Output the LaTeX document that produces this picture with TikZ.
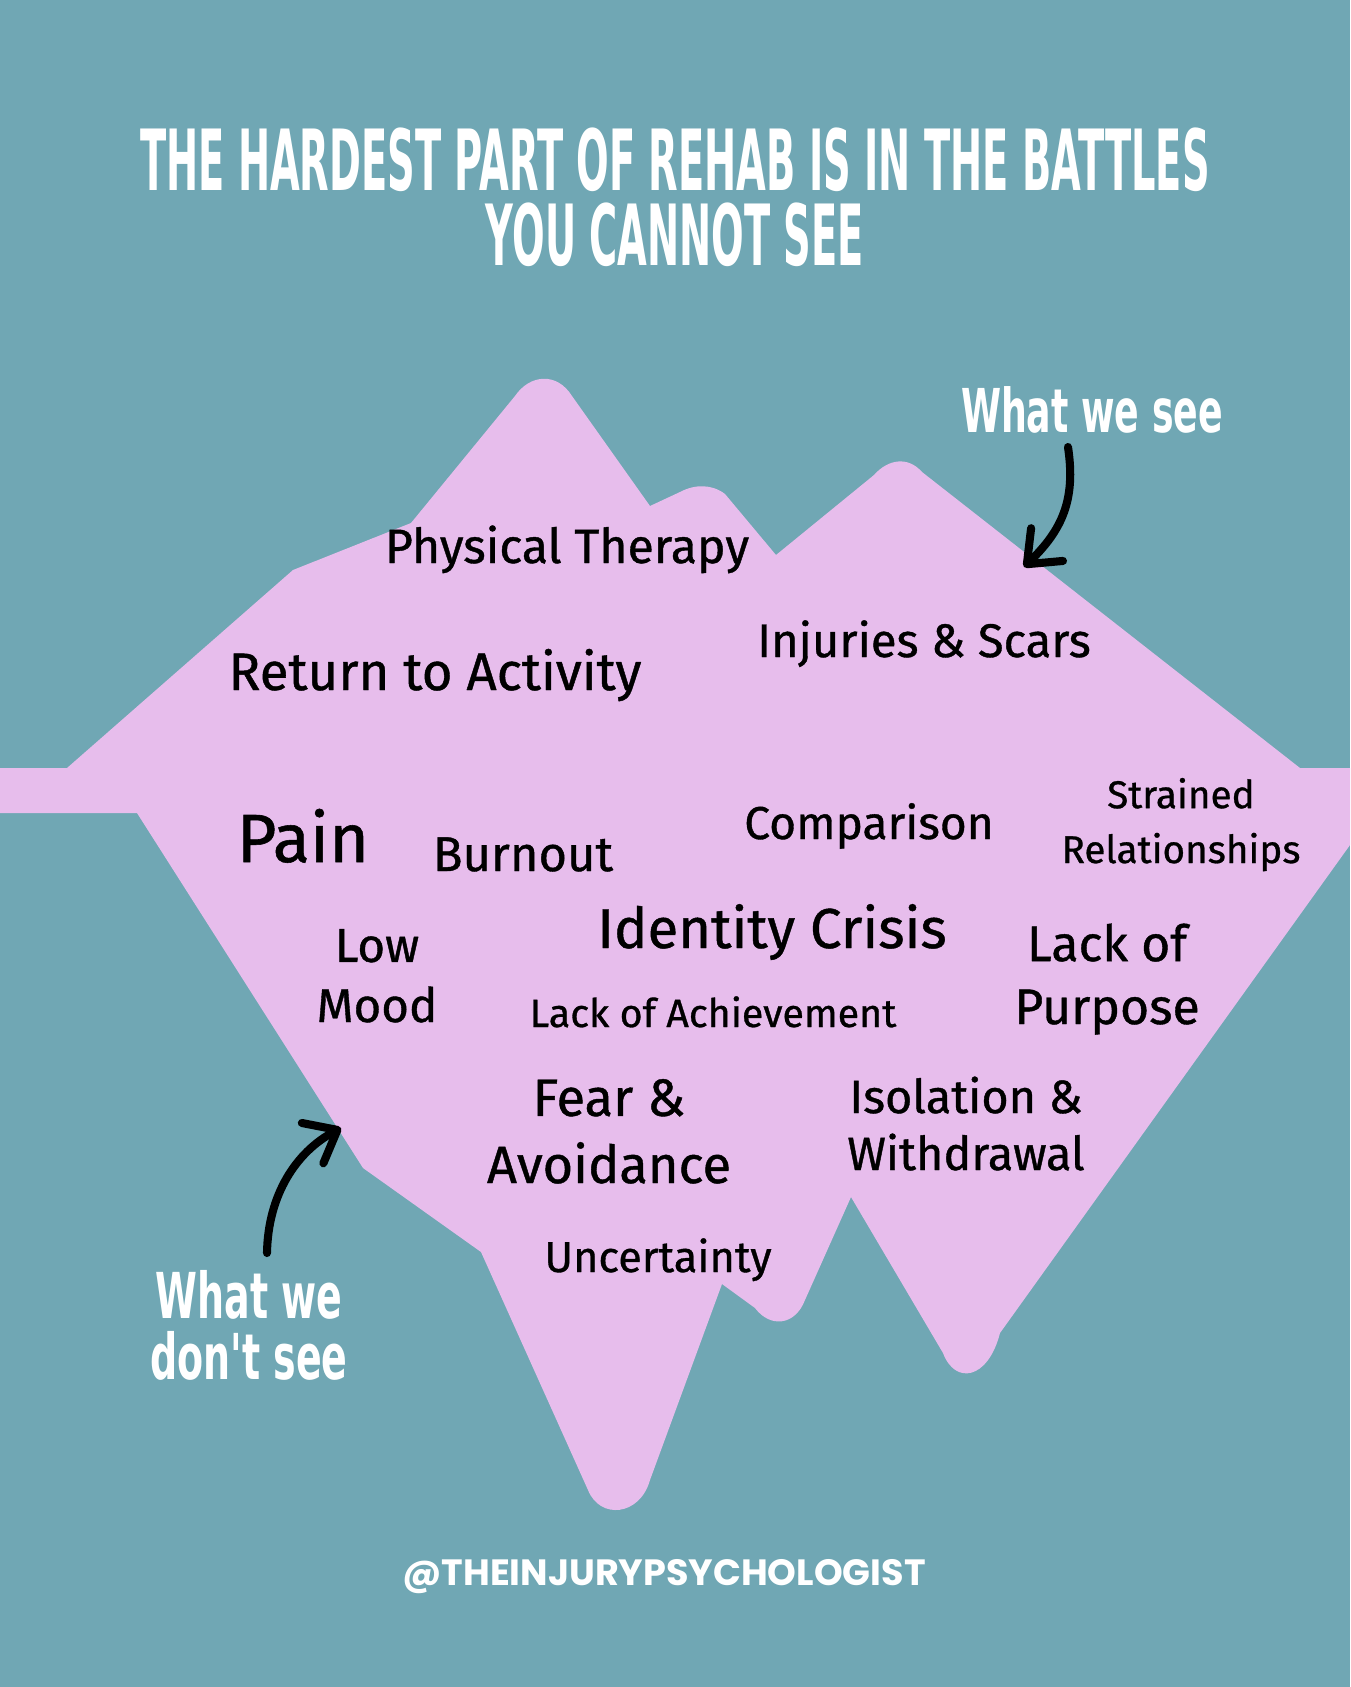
\documentclass[tikz,border=0pt]{standalone}
\usepackage{fontspec}
\usepackage{tikz}
\usetikzlibrary{arrows.meta}
\newfontfamily\titlefont[FakeStretch=0.455]{DejaVu Sans Bold}
\newfontfamily\sidefont[FakeStretch=0.6]{DejaVu Sans Bold}
\newfontfamily\handfont[FakeBold=0.8]{Fira Sans}
\newfontfamily\tagfont{Poppins}
\definecolor{seateal}{RGB}{112,167,180}
\definecolor{icepink}{RGB}{231,189,236}
\newcommand{\handsize}[2]{\handfont\fontsize{#1}{#2}\selectfont}

\begin{document}
\begin{tikzpicture}[
    x=0.01cm, y=-0.01cm,
    berg/.style={fill=icepink},
    hand/.style={text=black, anchor=base, align=center, inner sep=0pt},
    whitecaps/.style={text=white, anchor=base, align=center, inner sep=0pt},
    pointer/.style={-{Straight Barb[round, length=8pt, width=13pt]},
        line width=2.3pt, line cap=round, black},
]

% Background
\fill[seateal] (0,0) rectangle (1350,1687);
\useasboundingbox (0,0) rectangle (1350,1687);

% Iceberg with the water band
\fill[berg] (0,768) -- (67,768) -- (293,570) -- (411,523) -- (515,396)
    .. controls (530,374) and (557,372) .. (572,396) -- (650,506)
    -- (680,492) .. controls (695,484) and (712,484) .. (725,494) -- (776,555)
    -- (874,475) .. controls (888,459) and (908,456) .. (922,472) -- (1300,768)
    -- (1350,768) -- (1350,845) -- (1000,1333)
    .. controls (988,1380) and (955,1385) .. (943,1353) -- (851,1197)
    -- (805,1300) .. controls (795,1326) and (770,1328) .. (755,1308) -- (722,1284)
    -- (650,1480) .. controls (640,1516) and (600,1520) .. (588,1490) -- (481,1252)
    -- (363,1168) -- (137,813) -- (0,813) -- cycle;

% Title (base is the last line)
\node[whitecaps, font=\titlefont\fontsize{24}{21.3}\selectfont] (title) at (675,265)
    {THE HARDEST PART OF REHAB IS IN THE BATTLES\\YOU CANNOT SEE};

% Above the water
\node[hand, font=\handsize{13.7}{15}] (physio) at (567,563) {Physical Therapy};
\node[hand, font=\handsize{15}{17}] (return) at (435,690) {Return to Activity};
\node[hand, font=\handsize{13.4}{15}] (scars) at (924,657) {Injuries \& Scars};

% Below the water
\node[hand, font=\handsize{19.4}{22}] (pain) at (303,862) {Pain};
\node[hand, font=\handsize{13.9}{16}] (burnout) at (523,871) {Burnout};
\node[hand, font=\handsize{13.1}{16}] (compare) at (869,839) {Comparison};
\node[hand, font=\handsize{11}{15.6}] (strained) at (1181,863) {Strained\\Relationships};
\node[hand, font=\handsize{13.5}{17.1}] (mood) at (377,1022) {Low\\Mood};
\node[hand, font=\handsize{16}{20}] (identity) at (772,948) {Identity Crisis};
\node[hand, font=\handsize{14.2}{17.9}] (purpose) at (1107,1024) {Lack of\\Purpose};
\node[hand, font=\handsize{11.2}{14}] (achieve) at (713,1027) {Lack of Achievement};
\node[hand, font=\handsize{14.9}{19.1}] (fear) at (609,1183) {Fear \&\\Avoidance};
\node[hand, font=\handsize{13.3}{16.2}] (isolation) at (966,1170) {Isolation \&\\Withdrawal};
\node[hand, font=\handsize{12.3}{14}] (unsure) at (658,1272) {Uncertainty};

% Side labels and pointers
\node[whitecaps, font=\sidefont\fontsize{17.2}{18}\selectfont] (seelbl) at (1092,432) {What we see};
\node[whitecaps, font=\sidefont\fontsize{18}{17.1}\selectfont] (unseenlbl) at (249,1379) {What we\\don't see};
\coordinate (seetail) at (1068,447);
\coordinate (seetip) at (1024,567);
\coordinate (unseentail) at (267,1253);
\coordinate (unseentip) at (341,1128);
\draw[pointer] (seetail) .. controls (1076,500) and (1062,530) .. (seetip);
\draw[pointer] (unseentail) .. controls (268,1195) and (296,1152) .. (unseentip);

% Handle
\node[whitecaps, font=\tagfont\bfseries\fontsize{10.4}{13}\selectfont] (handle) at (664,1585)
    {@THEINJURYPSYCHOLOGIST};

\end{tikzpicture}
\end{document}
